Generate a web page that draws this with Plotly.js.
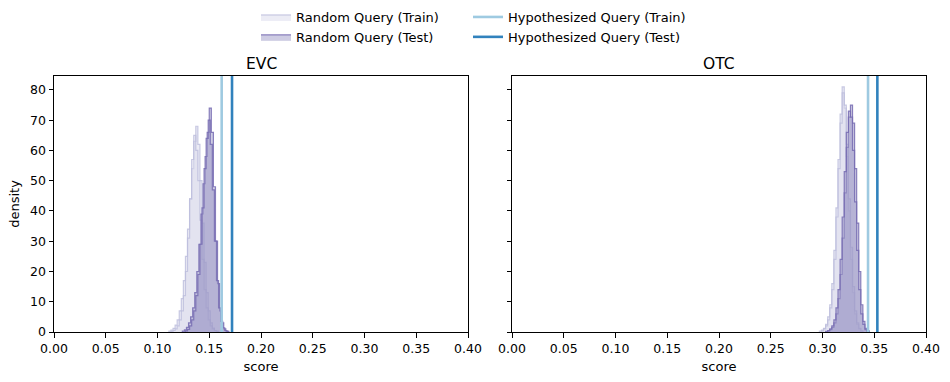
<!DOCTYPE html>
<html>
<head>
<meta charset="utf-8">
<script src="https://cdn.plot.ly/plotly-3.0.1.min.js"></script>
<style>html,body{margin:0;padding:0;background:#fff}#chart{width:950px;height:382px}</style>
</head>
<body>
<div id="chart"></div>
<script>
// ---------------- data ----------------
const binWidth = 0.002;
const yTop = 84.6;

// EVC panel
const evcTrainStartA = 0.111;
const evcTrainA = [0.3,0.6,1.2,2.3,4,7,11,17,25,34,44,54,63,68,62,50,36,23,13,7,3,1.3,0.5,0.2];
const evcTrainStartB = 0.113;
const evcTrainB = [0.2,0.5,1,2,4,7,12,20,31,44,57,65,60,50,37,24,14,8,4,2,1,0.5,0.2];
const evcTestStartA = 0.124;
const evcTestA = [0.3,0.7,1.5,3,5,8,13,20,29,39,49,58,66,74,66,48,30,16,7,3,1,0.3];
const evcTestStartB = 0.127;
const evcTestB = [0.4,0.9,2,4,7,12,19,29,41,54,64,70,62,47,30,17,8,3.5,1.4,0.5,0.2];
const evcHypTrain = 0.162;
const evcHypTest = 0.172;

// OTC panel
const otcTrainStartA = 0.297;
const otcTrainA = [0.3,0.6,1.2,2.5,5,9,16,27,41,57,72,81,74,58,40,24,13,6,2.5,1,0.3];
const otcTrainStartB = 0.299;
const otcTrainB = [0.4,1,2,4,8,14,24,38,54,69,79,75,62,44,28,15,7,3,1.2,0.4];
const otcTestStartA = 0.305;
const otcTestA = [0.3,0.8,1.5,3,6,11,19,31,46,61,71,75,69,54,36,20,9,3.5,1.2,0.4];
const otcTestStartB = 0.303;
const otcTestB = [0.2,0.5,1,2,4,8,14,24,38,53,66,73,71,60,43,27,14,6,2.5,0.8,0.3];
const otcHypTrain = 0.344;
const otcHypTest = 0.353;

const tickVals = [0,0.05,0.1,0.15,0.2,0.25,0.3,0.35,0.4];
const tickText = ['0.00','0.05','0.10','0.15','0.20','0.25','0.30','0.35','0.40'];

// ---------------- styles ----------------
const trainFill = 'rgba(218,218,235,0.5)';
const trainLine = 'rgba(188,189,220,0.8)';
const testFill = 'rgba(158,154,200,0.5)';
const testLine = 'rgba(117,107,177,0.85)';
const hypTrainColor = '#9ecae1';
const hypTestColor = '#3182bd';
const FS = 13;

function stepTrace(start, vals, xa, ya, fill, line, name, show, lg) {
  const x = [start], y = [0];
  for (let i = 0; i < vals.length; i++) { x.push(start + i * binWidth); y.push(vals[i]); }
  x.push(start + vals.length * binWidth); y.push(0);
  return {
    type: 'scatter', mode: 'lines', x: x, y: y, xaxis: xa, yaxis: ya,
    line: {shape: 'hv', color: line, width: 1.2},
    fill: 'tozeroy', fillcolor: fill,
    name: name, showlegend: show, legend: lg, hoverinfo: 'skip'
  };
}
function vline(v, xa, ya, color, name, show) {
  return {
    type: 'scatter', mode: 'lines', x: [v, v], y: [0, yTop], xaxis: xa, yaxis: ya,
    line: {color: color, width: 2.6}, name: name, showlegend: show, legend: 'legend2'
  };
}

const traces = [
  stepTrace(evcTrainStartA, evcTrainA, 'x', 'y', trainFill, trainLine, 'Random Query (Train)', true, 'legend'),
  stepTrace(evcTrainStartB, evcTrainB, 'x', 'y', trainFill, trainLine, 'Random Query (Train)', false, 'legend'),
  stepTrace(evcTestStartA, evcTestA, 'x', 'y', testFill, testLine, 'Random Query (Test)', true, 'legend'),
  stepTrace(evcTestStartB, evcTestB, 'x', 'y', testFill, testLine, 'Random Query (Test)', false, 'legend'),
  vline(evcHypTrain, 'x', 'y', hypTrainColor, 'Hypothesized Query (Train)', true),
  vline(evcHypTest, 'x', 'y', hypTestColor, 'Hypothesized Query (Test)', true),
  stepTrace(otcTrainStartA, otcTrainA, 'x2', 'y2', trainFill, trainLine, 'Random Query (Train)', false, 'legend'),
  stepTrace(otcTrainStartB, otcTrainB, 'x2', 'y2', trainFill, trainLine, 'Random Query (Train)', false, 'legend'),
  stepTrace(otcTestStartA, otcTestA, 'x2', 'y2', testFill, testLine, 'Random Query (Test)', false, 'legend'),
  stepTrace(otcTestStartB, otcTestB, 'x2', 'y2', testFill, testLine, 'Random Query (Test)', false, 'legend'),
  vline(otcHypTrain, 'x2', 'y2', hypTrainColor, 'Hypothesized Query (Train)', false),
  vline(otcHypTest, 'x2', 'y2', hypTestColor, 'Hypothesized Query (Test)', false)
];

const axisBase = {
  showline: true, mirror: true, linecolor: '#000', linewidth: 1,
  ticks: 'outside', ticklen: 4.5, tickwidth: 1, tickcolor: '#000',
  showgrid: false, zeroline: false, automargin: false,
  tickfont: {size: 12.5, color: '#000'}
};
const xBase = Object.assign({}, axisBase, {
  range: [0, 0.4], tickmode: 'array', tickvals: tickVals, ticktext: tickText,
  title: {text: 'score', font: {size: FS, color: '#000'}, standoff: 7}
});
const legendBase = {
  orientation: 'v', y: 1 - 2/382, yanchor: 'top', xanchor: 'left',
  font: {size: FS, color: '#000'}, bgcolor: 'rgba(0,0,0,0)', traceorder: 'normal',
  tracegroupgap: 0
};

const layout = {
  width: 950, height: 382,
  margin: {l: 0, r: 0, t: 0, b: 0},
  paper_bgcolor: '#fff', plot_bgcolor: '#fff',
  font: {family: 'DejaVu Sans', size: FS, color: '#000'},
  xaxis: Object.assign({}, xBase, {domain: [54/950, 468/950], anchor: 'y'}),
  xaxis2: Object.assign({}, xBase, {domain: [512/950, 926/950], anchor: 'y2'}),
  yaxis: Object.assign({}, axisBase, {
    domain: [1 - 332/382, 1 - 76/382], range: [0, yTop], dtick: 10, anchor: 'x',
    title: {text: 'density', font: {size: FS, color: '#000'}, standoff: 7}
  }),
  yaxis2: Object.assign({}, axisBase, {
    domain: [1 - 332/382, 1 - 76/382], range: [0, yTop], dtick: 10, anchor: 'x2',
    showticklabels: false
  }),
  showlegend: true,
  legend: Object.assign({}, legendBase, {x: 256/950}),
  legend2: Object.assign({}, legendBase, {x: 468/950}),
  annotations: [
    {text: 'EVC', xref: 'x domain', yref: 'y domain', x: 0.5, y: 1, xanchor: 'center', yanchor: 'bottom', yshift: 1, showarrow: false, font: {size: 15.5, color: '#000'}},
    {text: 'OTC', xref: 'x2 domain', yref: 'y2 domain', x: 0.5, y: 1, xanchor: 'center', yanchor: 'bottom', yshift: 1, showarrow: false, font: {size: 15.5, color: '#000'}}
  ]
};

Plotly.newPlot('chart', traces, layout, {staticPlot: true, displayModeBar: false});
</script>
</body>
</html>
